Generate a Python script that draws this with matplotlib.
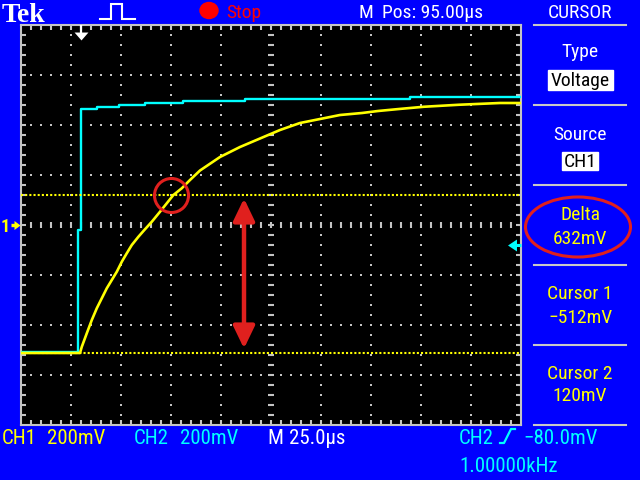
import matplotlib
matplotlib.use('Agg')
import matplotlib.pyplot as plt
import numpy as np
from matplotlib import font_manager
from matplotlib.lines import Line2D
from matplotlib.patches import Rectangle, Ellipse, FancyArrowPatch, ArrowStyle
from matplotlib.collections import LineCollection

# ---------------- data ----------------
# time from left edge of graticule (us), voltage (mV)
ch1_t = [0, 29.5, 30.4, 32.9, 35.4, 37.9, 40.4, 42.9, 45.4, 47.9, 50.4, 52.9,
         55.4, 58.7, 62.0, 65.4, 69.5, 72.9, 76.2, 80.4, 84.5, 89.5, 99.5,
         109.5, 119.5, 129.5, 139.5, 149.5, 159.5, 170.5, 178.5, 189.0, 201.5,
         219.0, 239.5, 250.0]
ch1_mv = [-512, -512, -487, -433, -380, -333, -293, -253, -220, -187, -147, -113,
          -80, -47, -17, 13, 53, 87, 120, 147, 180, 218, 272,
          312, 346, 380, 408, 424, 440, 448, 456, 464, 473,
          481, 488, 488]
ch2_t = [0, 28.5, 30.0, 38.0, 49.0, 62.0, 81.0, 112.0, 194.5, 250.0]
ch2_mv = [-508, -20, 464, 472, 480, 488, 496, 504, 512, 512]

cursor1_mv = -512
cursor2_mv = 120
trigger_t = 30.0
trigger_level_mv = -80.0
ch1_scale_mv = 200
ch2_scale_mv = 200
time_div_us = 25.0
m_pos_us = 95.00
freq_khz = 1.00000
menu_title = "CURSOR"
menu_type = "Voltage"
menu_source = "CH1"

# ---------------- styling ----------------
W, H = 640, 480
BLUE = '#0000FF'
GRAY = '#C4C4C4'
YEL = '#FFFF00'
CYAN = '#00FFFF'
RED = '#E0201E'

avail = {f.name for f in font_manager.fontManager.ttflist}
FAM = next((f for f in ['Liberation Sans Narrow', 'DejaVu Sans Condensed',
                        'Roboto Condensed', 'DejaVu Sans'] if f in avail), 'DejaVu Sans')
SERIF = next((f for f in ['Liberation Serif', 'DejaVu Serif'] if f in avail), 'DejaVu Sans')

fig = plt.figure(figsize=(6.4, 4.8), dpi=100, facecolor=BLUE)


def F(x, y):
    return (x / W, 1 - y / H)


def ftext(x, y, s, color='white', size=14, ha='left', va='baseline', **kw):
    fx, fy = F(x, y)
    fig.text(fx, fy, s, color=color, fontsize=size, ha=ha, va=va,
             family=kw.pop('family', FAM), **kw)


def fline(xs, ys, color, lw, **kw):
    fig.add_artist(Line2D([x / W for x in xs], [1 - y / H for y in ys],
                          transform=fig.transFigure, color=color, lw=lw, **kw))


# ---------------- graticule ----------------
xmax = 10 * time_div_us
ymax = 4 * ch1_scale_mv
ax = fig.add_axes([21 / W, 55 / H, 500 / W, 400 / H])
ax.set_facecolor('black')
ax.set_xlim(0, xmax)
ax.set_ylim(-ymax, ymax)
ax.set_xticks([])
ax.set_yticks([])
for s in ax.spines.values():
    s.set_color(GRAY)
    s.set_linewidth(1.5)

minor_t = time_div_us / 5
minor_v = ch1_scale_mv / 5
tdots = np.arange(minor_t, xmax, minor_t)
vdots = np.arange(-ymax + minor_v, ymax, minor_v)
for i in range(1, 10):
    t = i * time_div_us
    if i == 5:
        ax.plot(np.full_like(vdots, t), vdots, ls='none', marker='_', ms=4.5,
                mew=1.5, color=GRAY, zorder=1)
    else:
        ax.plot(np.full_like(vdots, t), vdots, ls='none', marker='s', ms=1.5,
                mew=0, color=GRAY, zorder=1)
for j in range(-3, 4):
    v = j * ch1_scale_mv
    if j == 0:
        ax.plot(tdots, np.full_like(tdots, v), ls='none', marker='|', ms=4.5,
                mew=1.5, color=GRAY, zorder=1)
    else:
        ax.plot(tdots, np.full_like(tdots, v), ls='none', marker='s', ms=1.5,
                mew=0, color=GRAY, zorder=1)

tick_t = 2.5
tick_v = 20
segs = []
for t in tdots:
    segs.append([(t, ymax), (t, ymax - tick_v)])
    segs.append([(t, -ymax), (t, -ymax + tick_v)])
for v in vdots:
    segs.append([(0, v), (tick_t, v)])
    segs.append([(xmax, v), (xmax - tick_t, v)])
ax.add_collection(LineCollection(segs, colors=GRAY, linewidths=1.5, zorder=1))

# ---------------- traces & cursors ----------------
ax.plot(ch2_t, ch2_mv, drawstyle='steps-post', color=CYAN, lw=1.7, zorder=4)
ax.plot(ch1_t, ch1_mv, color=YEL, lw=1.9, zorder=5)
for c in (cursor1_mv, cursor2_mv):
    ax.axhline(c, color=YEL, lw=1.5, ls=(0, (1, 1)), zorder=6)

# red circle at cursor-2 crossing
t_cross = np.interp(cursor2_mv, ch1_mv, ch1_t)
ax.plot([t_cross - 1.0], [cursor2_mv], marker='o', ms=24.5, mfc='none', mec=RED,
        mew=2.2, zorder=8)

# red double-headed arrow showing delta
arrow_t = 111.5
arr = FancyArrowPatch((arrow_t, cursor1_mv + 18), (arrow_t, cursor2_mv - 14),
                      arrowstyle=ArrowStyle('<|-|>', head_length=1.35, head_width=0.65),
                      mutation_scale=10, lw=3.2, color=RED, shrinkA=0, shrinkB=0,
                      zorder=8)
ax.add_patch(arr)

# trigger position marker (top)
ax.plot([trigger_t, trigger_t], [ymax, ymax - 34], color='white', lw=1.6,
        clip_on=False, zorder=7, solid_capstyle='butt')
ax.plot([trigger_t], [ymax - 44], marker=[(-7, 4), (7, 4), (0, -4)], ms=10,
        color='white', mew=0, ls='none', clip_on=False, zorder=7)

# trigger level marker (right, cyan)
ax.plot([xmax - 4.5, xmax], [trigger_level_mv] * 2, color=CYAN, lw=2.2,
        clip_on=False, zorder=7, solid_capstyle='butt')
ax.plot([xmax - 4.7], [trigger_level_mv], marker=[(4.5, 6), (4.5, -6), (-4.5, 0)],
        ms=8.6, color=CYAN, mew=0, ls='none', clip_on=False, zorder=7)

# ground marker (left, CH1)
ax.plot([-5.0, -2.2], [0, 0], color=YEL, lw=2.4, clip_on=False, zorder=7,
        solid_capstyle='butt')
ax.plot([-2.0], [0], marker=[(-4, 6), (-4, -6), (4, 0)], ms=6.5, color=YEL,
        mew=0, ls='none', clip_on=False, zorder=7)
ftext(5.5, 232, "1", color=YEL, size=13, ha='center', weight='bold')

# ---------------- top bar ----------------
ftext(2, 22, "Tek", color='white', size=20, weight='bold', family=SERIF)
fline([100, 111, 111, 122, 122, 135], [19, 19, 4, 4, 19, 19], 'white', 1.5,
      solid_joinstyle='miter')
fig.add_artist(Ellipse(F(209, 10.5), 18 / W, 16 / H, transform=fig.transFigure,
                       color='#FF0000'))
ftext(226, 18, "Stop", color='#FF0000', size=14)
ftext(359, 18, "M", color='white', size=14)
ftext(382, 18, f"Pos: {m_pos_us:.2f}\u00b5s", color='white', size=14)
ftext(580, 18, menu_title, color='white', size=14, ha='center')

# ---------------- side menu ----------------
for y in (25, 105, 185, 265, 345, 425):
    fline([534, 626], [y, y], '#C8C8C8', 1.5)
XC = 580
ftext(XC, 57, "Type", size=14, ha='center')
fig.add_artist(Rectangle(F(548, 90), 65 / W, 20 / H, transform=fig.transFigure,
                         color='white', zorder=2))
ftext(XC, 86, menu_type, color='black', size=14, ha='center', zorder=3)
ftext(XC, 140, "Source", size=14, ha='center')
fig.add_artist(Rectangle(F(562, 170), 36 / W, 18 / H, transform=fig.transFigure,
                         color='white', zorder=2))
ftext(XC, 167, menu_source, color='black', size=14, ha='center', zorder=3)
delta = cursor2_mv - cursor1_mv
ftext(XC, 220, "Delta", color=YEL, size=14, ha='center')
ftext(XC, 244, f"{delta:d}mV", color=YEL, size=14, ha='center')
fig.add_artist(Ellipse(F(578, 227), 105 / W, 60 / H, transform=fig.transFigure,
                       fill=False, ec=RED, lw=2.2, zorder=5))
ftext(XC, 299, "Cursor 1", color=YEL, size=14, ha='center')
ftext(XC, 323, f"{cursor1_mv:d}mV".replace('-', '\u2212'), color=YEL, size=14,
      ha='center')
ftext(XC, 379, "Cursor 2", color=YEL, size=14, ha='center')
ftext(XC, 401, f"{cursor2_mv:d}mV", color=YEL, size=14, ha='center')

# ---------------- bottom bar ----------------
ftext(2, 444, "CH1", color=YEL, size=15)
ftext(47, 444, f"{ch1_scale_mv}mV", color=YEL, size=15)
ftext(134, 444, "CH2", color=CYAN, size=15)
ftext(180, 444, f"{ch2_scale_mv}mV", color=CYAN, size=15)
ftext(267, 444, "M", color='white', size=15)
ftext(289, 444, f"{time_div_us:.1f}\u00b5s", color='white', size=15)
ftext(459, 444, "CH2", color=CYAN, size=15)
fline([500, 504, 511, 515], [443, 443, 429, 429], CYAN, 1.6)
ftext(523, 444, f"{trigger_level_mv:.1f}mV".replace('-', '\u2212'), color=CYAN, size=15)
ftext(459, 472, f"{freq_khz:.5f}kHz", color=CYAN, size=15)

fig.savefig('out.png', dpi=100, facecolor=BLUE)
